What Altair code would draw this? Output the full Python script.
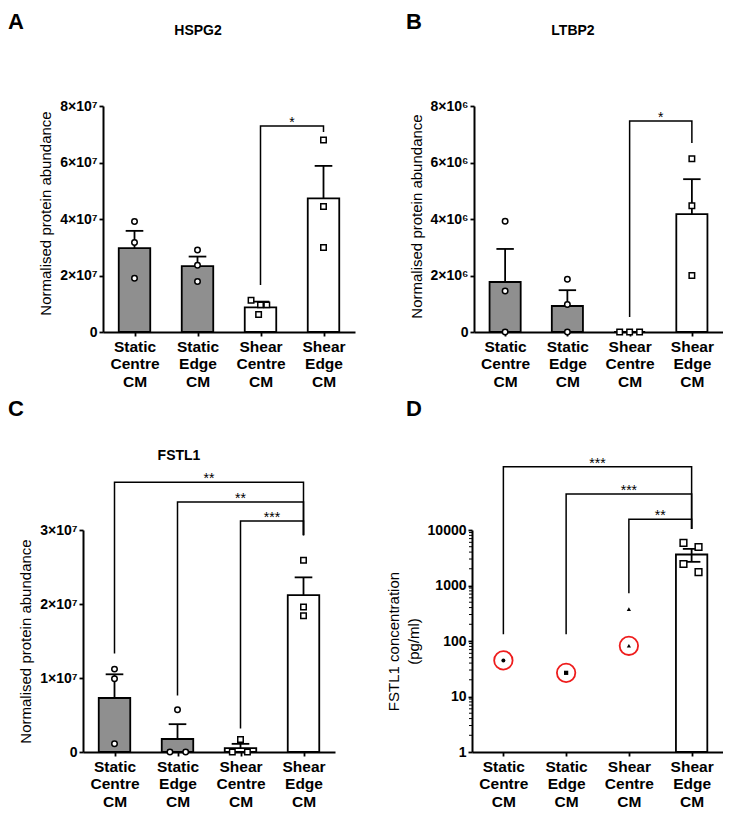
import json
import altair as alt
import pandas as pd

FONT = "Liberation Sans"

categories = ["Static Centre CM", "Static Edge CM", "Shear Centre CM", "Shear Edge CM"]
bar_fill = ["#8f8f8f", "#8f8f8f", "white", "white"]

# ---- Panel A : HSPG2 ----
a_mean = [2.97e7, 2.33e7, 0.875e7, 4.73e7]
a_sem = [0.61e7, 0.34e7, 0.20e7, 1.15e7]
a_points = [[3.91e7, 3.17e7, 1.90e7], [2.90e7, 2.36e7, 1.79e7],
            [1.12e7, 0.96e7, 0.96e7, 0.62e7], [6.80e7, 4.44e7, 2.99e7]]
a_jitter = [[0, 0, 0], [0, 0, 0], [-0.15, 0.0, 0.10, -0.03], [0, 0, 0]]
a_brackets = [(3, 4, 1.66e7, 7.29e7, 7.08e7, "*")]

# ---- Panel B : LTBP2 ----
b_mean = [1.77e6, 0.92e6, 0.0, 4.17e6]
b_sem = [1.17e6, 0.56e6, 0.0, 1.24e6]
b_points = [[3.92e6, 1.45e6, 0.0], [1.87e6, 0.97e6, 0.0],
            [0.0, 0.0, 0.0], [6.13e6, 4.47e6, 2.00e6]]
b_jitter = [[0, 0, 0], [0, 0, 0], [-0.16, 0.0, 0.16], [0, 0, 0]]
b_brackets = [(3, 4, 0.53e6, 7.47e6, 6.69e6, "*")]

# ---- Panel C : FSTL1 ----
c_mean = [0.73e7, 0.176e7, 0.053e7, 2.12e7]
c_sem = [0.32e7, 0.20e7, 0.057e7, 0.24e7]
c_points = [[1.12e7, 0.99e7, 0.11e7], [0.57e7, 0.0, 0.0],
            [0.17e7, 0.0, 0.0], [2.59e7, 1.96e7, 1.84e7]]
c_jitter = [[0, 0, 0], [0, -0.12, 0.13], [0, -0.13, 0.11], [0, 0, 0]]
c_brackets = [(1, 4, 1.33e7, 3.645e7, 2.93e7, "**"),
              (2, 4, 0.763e7, 3.38e7, 2.93e7, "**"),
              (3, 4, 0.316e7, 3.12e7, 2.93e7, "***")]

# ---- Panel D : FSTL1 concentration (pg/ml), log scale ----
d_mean = [None, None, None, 3620]
d_sem = [None, None, None, 950]
d_points = [[44.7], [26.7], [375, 82], [5880, 4940, 2440, 1740]]
d_jitter = [[0], [0], [0, 0], [-0.13, 0.11, -0.13, 0.11]]
d_circled = [(1, 44.7), (2, 26.7), (3, 82)]
d_brackets = [(1, 4, 133, 1.38e5, 1.04e4, "***"),
              (2, 4, 133, 4.46e4, 1.04e4, "***"),
              (3, 4, 724, 1.56e4, 1.04e4, "**")]

# ------------------------------------------------------------------
x_label_expr = json.dumps([c.split(" ") for c in categories]) + "[datum.value - 1]"


def x_enc():
    return alt.X("x:Q",
                 scale=alt.Scale(domain=[0.5, 4.5], nice=False, zero=False),
                 axis=alt.Axis(values=[1, 2, 3, 4], labelExpr=x_label_expr, title=None))


def sci_expr(power):
    sup = {"6": "\u2076", "7": "\u2077"}[str(power)]
    return (f"datum.value == 0 ? '0' : format(datum.value / 1e{power}, 'd') + '\u00d710{sup}'")


def text_layer(text, x, y, size, weight="bold", align="left"):
    return alt.Chart(pd.DataFrame({"t": [text]})).mark_text(
        font=FONT, fontSize=size, fontWeight=weight, align=align,
        baseline="alphabetic", color="black"
    ).encode(x=alt.value(x), y=alt.value(y), text="t:N")


def panel(mean, sem, points, jitter, brackets, y_enc, width, height,
          shapes, base=0, both_err=False, letter=None, title=None, extra=None):
    X = x_enc()
    layers = []
    rows = []
    for i, m in enumerate(mean):
        if m is None:
            continue
        rows.append({"x": i + 1 - 0.25, "x2": i + 1 + 0.25, "y": m, "y2": base, "f": bar_fill[i]})
    bars = alt.Chart(pd.DataFrame(rows)).mark_bar(stroke="black", strokeWidth=1.8).encode(
        x=X, x2="x2:Q", y=y_enc, y2="y2:Q", fill=alt.Fill("f:N", scale=None))
    layers.append(bars)
    er, cp = [], []
    for i, (m, s) in enumerate(zip(mean, sem)):
        if m is None or not s:
            continue
        lo = m - s if both_err else m
        er.append({"x": i + 1, "y": lo, "y2": m + s})
        cp.append({"x": i + 1 - 0.14, "x2": i + 1 + 0.14, "y": m + s})
        if both_err:
            cp.append({"x": i + 1 - 0.14, "x2": i + 1 + 0.14, "y": m - s})
    if er:
        layers.append(alt.Chart(pd.DataFrame(er)).mark_rule(color="black", strokeWidth=1.8).encode(
            x=X, y=y_enc, y2="y2:Q"))
        layers.append(alt.Chart(pd.DataFrame(cp)).mark_rule(color="black", strokeWidth=1.8).encode(
            x=X, x2="x2:Q", y=y_enc))
    for i, (vals, jit) in enumerate(zip(points, jitter)):
        shp, size, filled = shapes[i]
        df = pd.DataFrame({"x": [i + 1 + j for j in jit], "y": vals})
        if filled:
            mk = alt.Chart(df).mark_point(shape=shp, size=size, filled=True, color="black", opacity=1)
        else:
            mk = alt.Chart(df).mark_point(shape=shp, size=size, filled=True, fill="white",
                                          stroke="black", strokeWidth=1.5, opacity=1)
        layers.append(mk.encode(x=X, y=y_enc))
    br, st = [], []
    for g, (i1, i2, yl, yt, yr, lab) in enumerate(brackets):
        for o, (xx, yy) in enumerate([(i1, yl), (i1, yt), (i2, yt), (i2, yr)]):
            br.append({"g": g, "o": o, "x": xx, "y": yy})
        st.append({"x": (i1 + i2) / 2, "y": yt, "t": lab})
    layers.append(alt.Chart(pd.DataFrame(br)).mark_line(color="black", strokeWidth=1.5).encode(
        x=X, y=y_enc, detail="g:N", order="o:Q"))
    layers.append(alt.Chart(pd.DataFrame(st)).mark_text(
        font=FONT, fontSize=14, baseline="alphabetic", dy=1, color="black").encode(
        x=X, y=y_enc, text="t:N"))
    if extra:
        layers.extend(extra(X))
    if letter:
        layers.append(text_layer(*letter, size=22))
    if title:
        layers.append(text_layer(*title, size=14, align="center"))
    return alt.layer(*layers).properties(width=width, height=height)


def spacer(w):
    return alt.Chart(pd.DataFrame({"v": [0]})).mark_point(opacity=0, size=0).properties(width=w, height=1)


open_static = ("circle", 30, False)
open_shear = ("square", 30, False)
shapes_abc = [open_static, open_static, open_shear, open_shear]

y_title = "Normalised protein abundance"

yA = alt.Y("y:Q", scale=alt.Scale(domain=[0, 8e7], nice=False, zero=True),
           axis=alt.Axis(values=[0, 2e7, 4e7, 6e7, 8e7], labelExpr=sci_expr(7), title=y_title,
                         titleY=107))
yB = alt.Y("y:Q", scale=alt.Scale(domain=[0, 8e6], nice=False, zero=True),
           axis=alt.Axis(values=[0, 2e6, 4e6, 6e6, 8e6], labelExpr=sci_expr(6), title=y_title,
                         titleY=110))
yC = alt.Y("y:Q", scale=alt.Scale(domain=[0, 3e7], nice=False, zero=True),
           axis=alt.Axis(values=[0, 1e7, 2e7, 3e7], labelExpr=sci_expr(7), title=y_title))
yD = alt.Y("y:Q", scale=alt.Scale(type="log", domain=[1, 10000], nice=False),
           axis=alt.Axis(values=[1, 10, 100, 1000, 10000], labelExpr="format(datum.value, 'd')",
                         title=["FSTL1 concentration", "(pg/ml)"], titleLineHeight=20))

minor_vals = [m * 10 ** k for k in range(4) for m in range(2, 10)]


def d_extra(X):
    minor = alt.Chart(pd.DataFrame({"y": minor_vals})).mark_rule(color="black", strokeWidth=1).encode(
        y=yD, x=alt.value(-3), x2=alt.value(0))
    circ = alt.Chart(pd.DataFrame({"x": [c[0] for c in d_circled], "y": [c[1] for c in d_circled]})).mark_point(
        shape="circle", size=340, filled=False, color="#ee1c1c", strokeWidth=1.8, opacity=1).encode(x=X, y=yD)
    return [minor, circ]


pA = panel(a_mean, a_sem, a_points, a_jitter, a_brackets, yA, 252, 226, shapes_abc,
           letter=("A", -95, -77), title=("HSPG2", 95, -71))
pB = panel(b_mean, b_sem, b_points, b_jitter, b_brackets, yB, 249, 226, shapes_abc,
           letter=("B", -68, -77), title=("LTBP2", 99, -71))
pC = panel(c_mean, c_sem, c_points, c_jitter, c_brackets, yC, 252, 222, shapes_abc,
           letter=("C", -75, -114), title=("FSTL1", 96, -70))
shapes_d = [("circle", 16, True), ("square", 18, True), ("triangle-up", 18, True), ("square", 45, False)]
pD = panel(d_mean, d_sem, d_points, d_jitter, d_brackets, yD, 251, 222, shapes_d,
           base=1, both_err=True, letter=("D", -66, -114), extra=d_extra)

row1 = alt.hconcat(spacer(21), pA, spacer(119), pB, spacing=0, bounds="flush")
row2 = alt.hconcat(spacer(1), pC, spacer(137), pD, spacing=0, bounds="flush")

chart = alt.vconcat(row1, row2, spacing=8).properties(
    padding={"top": 3, "left": 0, "right": 0, "bottom": 0}, background="white"
).configure_view(stroke=None).configure_axis(
    domainColor="black", domainWidth=2, tickColor="black", tickWidth=1.8, tickSize=4,
    labelColor="black", labelFont=FONT, titleFont=FONT, titleColor="black", grid=False,
    labelFlush=False, labelOverlap=False
).configure_axisX(
    labelFontSize=15.5, labelFontWeight="bold", labelLineHeight=17.5, labelPadding=3
).configure_axisY(
    labelFontSize=14, labelFontWeight="bold", labelPadding=2,
    titleFontSize=15, titleFontWeight="normal", titlePadding=6
)

chart.save("out.html", embed_options={"renderer": "svg", "actions": False})
